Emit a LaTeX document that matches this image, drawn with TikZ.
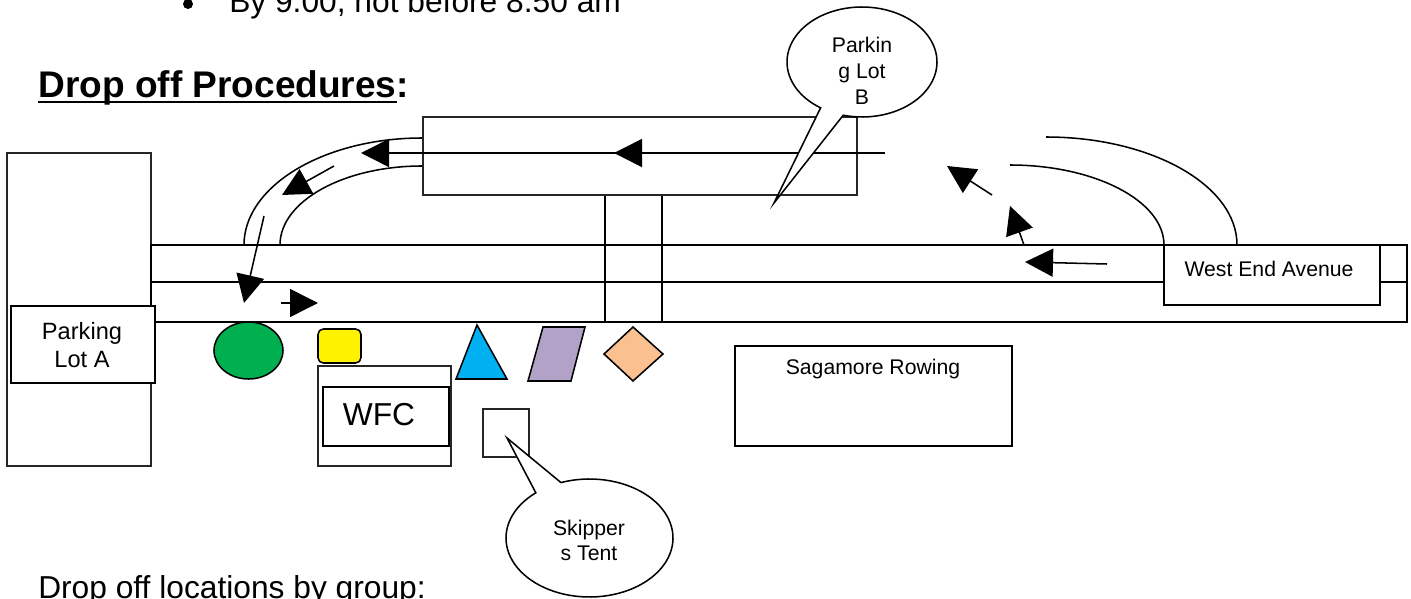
\documentclass[tikz,border=0pt]{standalone}
\usepackage{fontspec}
\setmainfont{Liberation Sans}
\usetikzlibrary{arrows.meta,shapes.geometric}
\definecolor{sgreen}{HTML}{00B050}
\definecolor{sblue}{HTML}{00B0F0}
\definecolor{spurple}{HTML}{B2A2C7}
\definecolor{sorange}{HTML}{FAC090}
\tikzset{
  ln/.style={draw=black,line width=1.15pt},
  heavy/.style={draw=black,line width=1.5pt},
  wh/.style n args={2}{minimum width=#1*0.75pt,minimum height=#2*0.75pt},
  box/.style={draw=black!85,line width=1.5pt,fill=white,inner sep=0pt,anchor=north west},
  heavybox/.style={heavy,fill=white,inner sep=0pt,anchor=north west},
  small/.style={inner sep=0pt,align=center,font=\fontsize{15.9}{19.2}\selectfont},
  body/.style={inner sep=0pt,anchor=base west,font=\fontsize{23.8}{28}\selectfont},
  tip/.style={ln,-{Triangle[length=21pt,width=21pt]}}
}
\begin{document}
\begin{tikzpicture}[x=0.75pt,y=-0.75pt,line join=miter]
\useasboundingbox (0,0) rectangle (1411,599);
% surrounding text
\fill (188,4) circle (5);
\node[body] (hd0) at (229,13) {By 9.00, not before 8.50 am};
\node[body,font=\fontsize{27.8}{32}\selectfont\bfseries] (hd) at (38,98) {Drop off Procedures:};
\draw[line width=1.9pt] (38,102) -- (397,102);
\node[body] (ft) at (38,598) {Drop off locations by group:};
% parking lot A
\node[box,wh={144}{312}] (lotA) at (5.5,152.5) {};
% roads
\draw[ln] (151,245) rectangle (1407,322);
\draw[ln] (151,282) -- (1407,282);
\draw[ln] (605,195) -- (605,322) (662,195) -- (662,322);
\node[box,fill=none,wh={434}{78}] (rectB) at (421.5,116.5) {};
\draw[ln] (422,153) -- (885,153);
% curves
\draw[ln] (244,245) .. controls (244,186) and (324,138) .. (422,138);
\draw[ln] (280,245) .. controls (280,201) and (344,166) .. (422,166);
\draw[ln] (1237,245) .. controls (1237,185) and (1151,137) .. (1046,137);
\draw[ln] (1164,245) .. controls (1164,201) and (1095,165) .. (1010,165);
% arrows
\draw[tip] (422,153) -- (361,153);
\draw[tip] (660,153) -- (614,153);
\draw[tip] (334,166) -- (282,195);
\draw[tip] (264,216) -- (244,303);
\draw[tip] (281,303) -- (318,303);
\draw[tip] (1107,264) -- (1025,262);
\draw[tip] (1024,245) -- (1010,206);
\draw[tip] (992,195) -- (947,166);
% callout B
\draw[ln,fill=white] plot[domain=123.5:464.5,samples=90] ({862+75*cos(\x)},{62+55*sin(\x)}) -- (774,203) -- cycle;
\node[small,font=\fontsize{15.9}{19.5}\selectfont] (lb) at (862,71) {Parkin\\g Lot\\B};
% coloured markers
\node[ln,fill=sgreen,ellipse,wh={69}{57},inner sep=0pt] (gr) at (248.5,350.5) {};
\draw[ln,fill=yellow,rounded corners=4pt] (318,329) rectangle (361,363);
\node[box,wh={133}{100}] (wfcout) at (316.5,364.5) {};
\node[heavybox,wh={126}{59}] (wfc) at (321.5,385.5) {};
\node[inner sep=0pt,font=\fontsize{23.8}{28}\selectfont] (wfct) at (379,415) {WFC};
\draw[ln,fill=sblue] (477,325) -- (507,379) -- (456,379) -- cycle;
\draw[ln,fill=spurple] (543,327) -- (585,327) -- (571,381) -- (528,381) -- cycle;
\draw[ln,fill=sorange] (633,327) -- (663,354) -- (633,381) -- (604,354) -- cycle;
% tent
\node[box,wh={46}{48}] (tent) at (481.5,407.5) {};
% Sagamore
\node[heavybox,wh={277}{100}] (sag) at (733.5,344.5) {};
\node[small] (sagt) at (873,369) {Sagamore Rowing};
% callout skipper
\draw[ln,fill=white] plot[domain=250:590,samples=90] ({589.5+83.5*cos(\x)},{538+59*sin(\x)}) -- (507,438) -- cycle;
\node[small,font=\fontsize{15.9}{18.7}\selectfont] (sk) at (589,540) {Skipper\\s Tent};
% labels
\node[heavybox,wh={144}{77}] (pa) at (9.5,304.5) {};
\node[small,font=\fontsize{17.7}{20.7}\selectfont] (pat) at (82,345) {Parking\\Lot A};
\node[heavybox,wh={216}{59}] (we) at (1162.5,244.5) {};
\node[small] (wet) at (1269,269) {West End Avenue};
\end{tikzpicture}
\end{document}
